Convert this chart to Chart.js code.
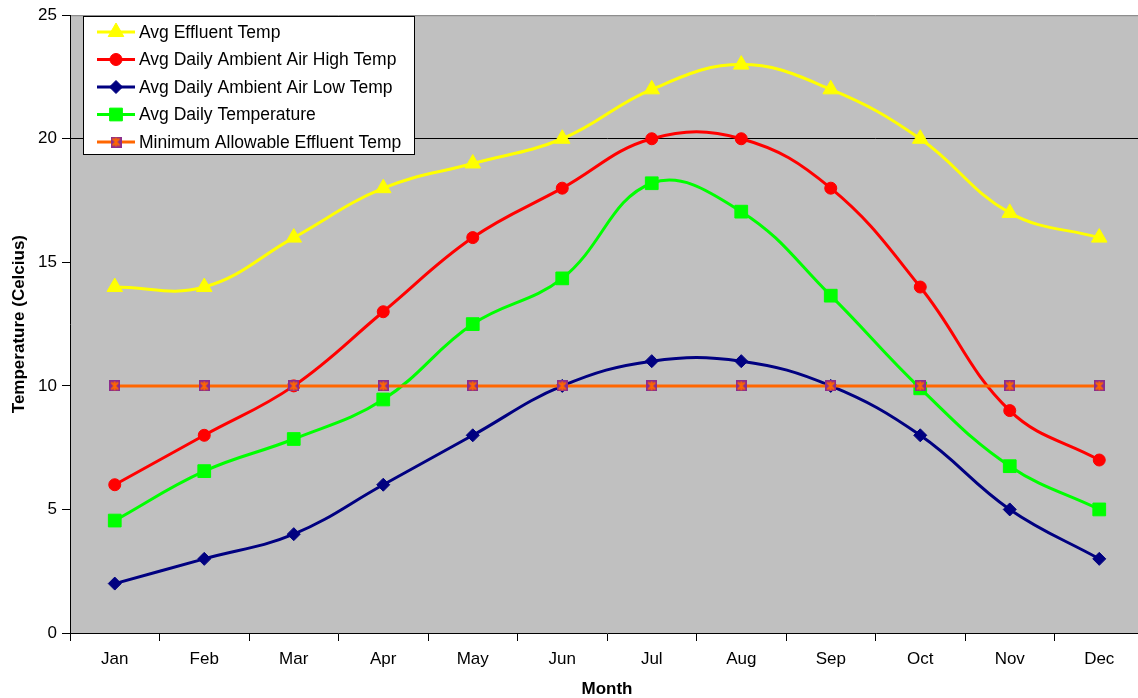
<!DOCTYPE html>
<html>
<head>
<meta charset="utf-8">
<title>Monthly Temperatures</title>
<script src="https://cdn.jsdelivr.net/npm/chart.js@4/dist/chart.umd.min.js"></script>
<style>
  html, body { margin: 0; padding: 0; background: #fff; overflow: hidden; }
  #wrap { position: relative; width: 1154px; height: 698px; }
  #chart { display: block; }
</style>
</head>
<body>
<div id="wrap"><canvas id="chart" width="1154" height="698"></canvas></div>
<script>
// Monthly values (degrees Celsius)
const months = ['Jan', 'Feb', 'Mar', 'Apr', 'May', 'Jun', 'Jul', 'Aug', 'Sep', 'Oct', 'Nov', 'Dec'];
const effluentTemp = [14, 14, 16, 18, 19, 20, 22, 23, 22, 20, 17, 16];
const ambientHigh = [6, 8, 10, 13, 16, 18, 20, 20, 18, 14, 9, 7];
const ambientLow = [2, 3, 4, 6, 8, 10, 11, 11, 10, 8, 5, 3];
const dailyAvg = [4.55, 6.55, 7.85, 9.45, 12.5, 14.35, 18.2, 17.05, 13.65, 9.9, 6.75, 5.0];
const minAllowable = [10, 10, 10, 10, 10, 10, 10, 10, 10, 10, 10, 10];

const seriesNames = [
  'Avg Effluent Temp',
  'Avg Daily Ambient Air High Temp',
  'Avg Daily Ambient Air Low Temp',
  'Avg Daily Temperature',
  'Minimum Allowable Effluent Temp'
];
const yMin = 0, yMax = 25, yStep = 5;

// Purple square marker with an orange asterisk
function makeStarBox(size) {
  const c = document.createElement('canvas');
  c.width = size; c.height = size;
  const g = c.getContext('2d');
  g.fillStyle = '#8B2C8E';
  g.fillRect(0, 0, size, size);
  g.strokeStyle = '#FF6600';
  g.lineWidth = 2;
  g.beginPath();
  g.moveTo(2, 2); g.lineTo(size - 2, size - 2);
  g.moveTo(size - 2, 2); g.lineTo(2, size - 2);
  g.moveTo(size / 2, 1); g.lineTo(size / 2, size - 1);
  g.stroke();
  return c;
}
const starBox = makeStarBox(11);

Chart.defaults.font.family = '"Liberation Sans", Arial, Helvetica, sans-serif';
Chart.defaults.font.size = 17;
Chart.defaults.color = '#000';

function series(label, data, color, style, radius, order) {
  return {
    label, data,
    borderColor: color,
    backgroundColor: color,
    borderWidth: 3,
    tension: 0.4,
    pointStyle: style,
    pointRadius: radius,
    pointHoverRadius: radius,
    pointBorderWidth: 1,
    pointBorderColor: color,
    pointBackgroundColor: color,
    order
  };
}

const datasets = [
  series(seriesNames[0], effluentTemp, '#FFFF00', 'triangle', 9, 4),
  series(seriesNames[1], ambientHigh, '#FF0000', 'circle', 6, 3),
  series(seriesNames[2], ambientLow, '#000080', 'rectRot', 6.5, 2),
  series(seriesNames[3], dailyAvg, '#00FF00', 'rect', 9, 1),
  series(seriesNames[4], minAllowable, '#FF6600', starBox, 6, 0)
];

// Grey plot area with a thin top edge
const plotBackground = {
  id: 'plotBackground',
  beforeDraw(chart) {
    const { ctx, chartArea: a } = chart;
    ctx.save();
    ctx.fillStyle = '#C0C0C0';
    ctx.fillRect(a.left, a.top, a.right - a.left, a.bottom - a.top);
    ctx.strokeStyle = '#808080';
    ctx.lineWidth = 1;
    ctx.beginPath();
    ctx.moveTo(a.left, a.top + 0.5);
    ctx.lineTo(a.right, a.top + 0.5);
    ctx.stroke();
    ctx.restore();
  }
};

function drawMarker(ctx, ds, x, y) {
  const r = ds.pointRadius;
  const style = ds.pointStyle;
  ctx.fillStyle = ds.pointBackgroundColor;
  ctx.strokeStyle = ds.pointBorderColor;
  ctx.lineWidth = 1;
  if (typeof style !== 'string') {
    ctx.drawImage(style, x - style.width / 2, y - style.height / 2);
    return;
  }
  ctx.beginPath();
  if (style === 'circle') {
    ctx.arc(x, y, r, 0, Math.PI * 2);
  } else if (style === 'triangle') {
    ctx.moveTo(x, y - r);
    ctx.lineTo(x + r * Math.sin(Math.PI / 3), y + r / 2);
    ctx.lineTo(x - r * Math.sin(Math.PI / 3), y + r / 2);
  } else if (style === 'rectRot') {
    ctx.moveTo(x - r, y); ctx.lineTo(x, y - r); ctx.lineTo(x + r, y); ctx.lineTo(x, y + r);
  } else {
    const s = Math.SQRT1_2 * r;
    ctx.rect(x - s, y - s, 2 * s, 2 * s);
  }
  ctx.closePath();
  ctx.fill();
  ctx.stroke();
}

// Boxed legend in the upper-left of the plot
const boxLegend = {
  id: 'boxLegend',
  afterDraw(chart) {
    const { ctx } = chart;
    const box = { x: 83.5, y: 16.5, w: 331, h: 138 };
    ctx.save();
    ctx.fillStyle = '#FFFFFF';
    ctx.fillRect(box.x, box.y, box.w, box.h);
    ctx.strokeStyle = '#000';
    ctx.lineWidth = 1;
    ctx.strokeRect(box.x, box.y, box.w, box.h);
    chart.data.datasets.forEach((ds, i) => {
      const y = 32 + i * 27.5;
      ctx.strokeStyle = ds.borderColor;
      ctx.lineWidth = 3;
      ctx.beginPath();
      ctx.moveTo(97, y);
      ctx.lineTo(135, y);
      ctx.stroke();
      drawMarker(ctx, ds, 116, y);
      ctx.fillStyle = '#000';
      ctx.font = '17.5px "Liberation Sans", Arial, sans-serif';
      ctx.textAlign = 'left';
      ctx.textBaseline = 'middle';
      ctx.fillText(ds.label, 139, y + 1);
    });
    ctx.restore();
  }
};

new Chart(document.getElementById('chart'), {
  type: 'line',
  data: { labels: months, datasets },
  options: {
    responsive: false,
    maintainAspectRatio: false,
    devicePixelRatio: 1,
    animation: false,
    layout: { padding: { top: 13, right: 0, left: 0, bottom: 0 } },
    plugins: {
      legend: { display: false },
      tooltip: { enabled: false }
    },
    scales: {
      x: {
        type: 'category',
        offset: true,
        grid: {
          offset: true,
          color: 'rgba(0,0,0,0)',
          tickColor: '#000',
          tickLength: 8,
          drawTicks: true
        },
        border: { color: '#000', width: 1 },
        ticks: { padding: 8, maxRotation: 0, autoSkip: false, color: '#000' },
        title: {
          display: true,
          text: 'Month',
          font: { weight: 'bold', size: 17, lineHeight: 1 },
          padding: { top: 0, bottom: 0 }
        },
        afterFit(scale) { scale.height = 65; }
      },
      y: {
        min: yMin,
        max: yMax,
        ticks: { stepSize: yStep, padding: 5, color: '#000' },
        grid: {
          color: (c) => (c.tick && c.tick.value === 20 ? '#000' : 'rgba(0,0,0,0)'),
          tickColor: '#000',
          tickLength: 8,
          drawTicks: true
        },
        border: { color: '#000', width: 1 },
        title: {
          display: true,
          text: 'Temperature (Celcius)',
          font: { weight: 'bold', size: 17 },
          padding: { top: 9, bottom: 0 }
        },
        afterFit(scale) { scale.width = 70; }
      }
    }
  },
  plugins: [plotBackground, boxLegend]
});
</script>
</body>
</html>
